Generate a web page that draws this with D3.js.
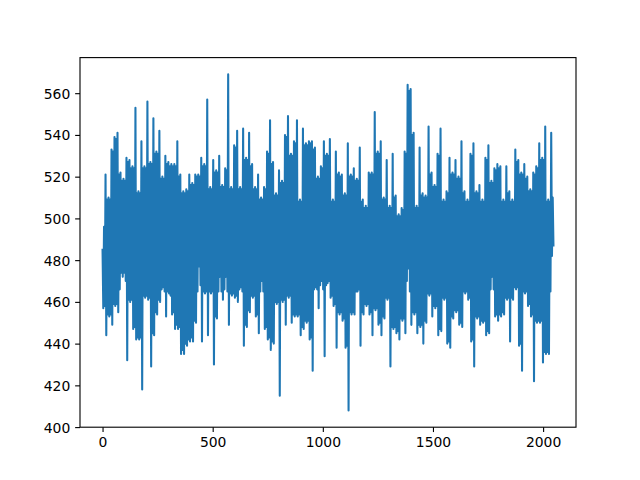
<!DOCTYPE html>
<html>
<head>
<meta charset="utf-8">
<script src="https://cdn.jsdelivr.net/npm/d3@7"></script>
<style>
html,body{margin:0;padding:0;background:#fff;}
svg{display:block;}
text{font-family:"DejaVu Sans",sans-serif;font-size:13.9px;fill:#000;}
</style>
</head>
<body>
<svg id="c" width="640" height="480"></svg>
<script>
const xTicks = [0, 500, 1000, 1500, 2000];
const yTicks = [400, 420, 440, 460, 480, 500, 520, 540, 560];
const lastIndex = 2047;
const highs = [
485,521,510,533,539,541,522,519,529,528,
525,553,513,537,525,556,527,548,532,542,
520,530,527,526,526,537,521,513,514,521,
517,521,521,529,526,557,515,528,523,530,
516,524,569,515,535,542,515,543,529,541,
526,515,521,510,515,532,547,527,512,523,
518,540,549,531,537,547,509,543,536,537,
537,534,520,525,537,531,538,509,532,522,
521,512,536,521,524,519,534,509,506,522,
522,551,532,537,510,528,506,531,511,502,
505,532,564,
562,541,506,534,512,511,544,522,516,531,
543,509,513,529,522,528,520,537,513,509,
531,536,513,516,509,529,535,518,524,526,
525,509,525,513,509,533,528,522,526,520,
514,522,525,536,529,544,509,541];
const lows = [
457,444,453,449,458,455,474,474,432,460,
447,442,442,418,462,461,429,444,454,460,
467,453,464,454,447,447,435,435,439,441,
441,450,477,441,464,444,464,430,452,472,
461,472,449,463,462,460,467,439,448,455,
462,453,445,470,447,442,437,440,459,415,
460,449,462,450,453,453,444,447,450,442,
427,467,457,470,434,469,462,458,438,454,
451,438,408,454,454,465,439,454,458,454,
444,456,449,444,452,461,429,447,445,442,
451,445,476,
449,454,445,448,440,450,463,453,457,444,
446,461,440,438,452,455,449,448,464,461,
441,429,452,449,450,444,445,472,453,451,
453,454,461,441,461,466,439,427,464,458,
453,422,450,450,431,435,435,482];
const shoulderHighs = [
496,509,509,532,538,521,518,518,527,524,
524,512,512,524,524,526,526,531,531,519,
519,526,525,525,525,520,512,512,513,516,
516,520,520,525,525,514,514,522,522,515,
515,523,514,514,534,514,514,528,528,525,
514,514,509,509,514,531,526,511,511,517,
517,539,530,530,536,508,508,535,535,536,
533,519,519,524,530,530,508,508,521,520,
511,511,520,520,518,518,508,505,505,521,
521,531,531,509,509,505,505,510,501,501,
504,531,561,
540,505,505,511,510,510,521,515,515,530,
508,508,512,521,521,519,519,512,508,508,
530,512,512,508,508,528,517,517,523,524,
508,508,512,508,508,527,521,521,519,513,
513,521,524,528,528,508,508,510];
const shoulderLows = [
458,454,454,459,459,466,472,470,461,461,
448,443,443,463,463,462,445,455,461,466,
465,465,463,455,449,448,437,440,442,443,
451,465,468,465,465,465,465,453,465,465,
466,465,464,464,463,466,465,449,456,463,
463,454,465,465,448,443,441,460,460,461,
461,463,463,454,454,454,448,451,451,443,
466,466,468,466,468,470,463,459,455,455,
452,439,455,455,465,466,455,459,459,455,
457,457,450,453,462,462,448,448,446,452,
452,470,465,
455,455,449,449,451,464,464,458,458,447,
462,462,441,453,456,456,450,465,465,462,
442,453,453,451,451,446,466,466,454,454,
455,462,462,462,467,467,440,465,465,459,
454,451,451,451,436,436,465,487];

const values = d3.zip(highs, lows, shoulderHighs, shoulderLows).flat();

const m = {left: 80, right: 576, top: 57.6, bottom: 427.2};
const x = d3.scaleLinear().domain([-102.35, lastIndex + 102.35]).range([m.left, m.right]);
const y = d3.scaleLinear().domain([399.95, 577.05]).range([m.bottom, m.top]);
const svg = d3.select("#c");

const stepX = lastIndex / (values.length - 1);
const line = d3.line().x((d, i) => x(i * stepX)).y(d => y(d));
svg.append("path").datum(values)
  .attr("fill", "none").attr("stroke", "#1f77b4")
  .attr("stroke-width", 2.08).attr("stroke-linejoin", "round")
  .attr("stroke-linecap", "square").attr("d", line);

const xAxis = d3.axisBottom(x).tickValues(xTicks).tickFormat(d3.format("d")).tickSize(4.86).tickPadding(4.86);
const yAxis = d3.axisLeft(y).tickValues(yTicks).tickFormat(d3.format("d")).tickSize(4.86).tickPadding(4.86);
const gx = svg.append("g").attr("transform", `translate(0,${m.bottom})`).call(xAxis);
const gy = svg.append("g").attr("transform", `translate(${m.left},0)`).call(yAxis);
[gx, gy].forEach(g => {
  g.select(".domain").remove();
  g.attr("font-family", null).attr("font-size", null);
  g.selectAll("line").attr("stroke", "#000").attr("stroke-width", 1.11);
  g.selectAll("text").attr("fill", "#000");
});
gy.selectAll("text").attr("dy", "0.36em");
svg.append("rect").attr("x", m.left).attr("y", m.top)
  .attr("width", m.right - m.left).attr("height", m.bottom - m.top)
  .attr("fill", "none").attr("stroke", "#000").attr("stroke-width", 1.11);
</script>
</body>
</html>
